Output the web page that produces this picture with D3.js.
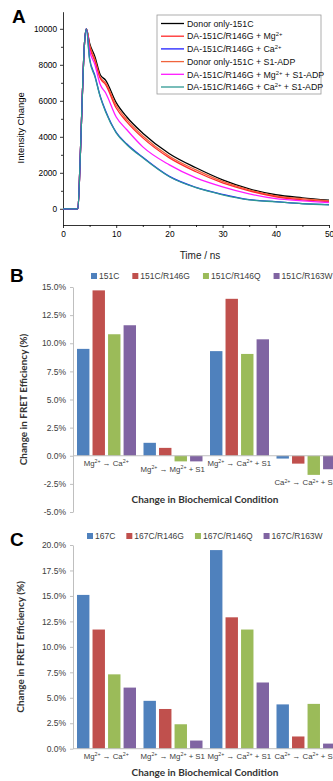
<!DOCTYPE html>
<meta charset="utf-8">
<style>
body { margin: 0; background: #fff; }
svg { display: block; font-family: "Liberation Sans", Arial, sans-serif; }
.panel-letter { font-family: "Liberation Sans", Arial, sans-serif; font-weight: bold; font-size: 19px; fill: #000; }
.axisA path, .axisA line { stroke: #000; stroke-width: 0.8px; }
.axisA text { font-size: 8.3px; fill: #000; font-family: "Liberation Sans", Arial, sans-serif; }
.axisB path, .axisB line { stroke: #bfbfbf; stroke-width: 1px; }
.axisB text { font-size: 8.5px; fill: #404040; font-family: "Liberation Sans", Arial, sans-serif; }
.bold-title { font-family: Lato, "Open Sans", sans-serif; font-weight: bold; font-size: 10px; fill: #333; }
.leg-text { font-size: 8.5px; fill: #404040; }
.cat-label { font-size: 7.8px; fill: #404040; }
</style>
<body>
<svg id="fig" width="333" height="781"></svg>
<script src="https://d3js.org/d3.v7.min.js"></script>
<script>

// ---------- panel A data (time-resolved intensity decay) ----------
var times = [0, 2.8, 3.2, 3.6, 4.0, 4.4, 5, 6, 7, 8, 10, 12, 15, 20, 25, 30, 35, 40, 45, 50];
var donor151C   = [0, 0, 2500, 6000, 9000, 10000, 9200, 8450, 7450, 7150, 5900, 5100, 4200, 3060, 2280, 1610, 1110, 780, 610, 480];
var donorS1     = [0, 0, 2500, 6000, 9000, 10000, 9100, 8300, 7300, 7000, 5750, 4950, 4050, 2920, 2160, 1520, 1050, 720, 560, 440];
var daMg        = [0, 0, 2500, 6000, 9000, 10000, 9000, 8200, 7250, 6900, 5600, 4830, 3940, 2830, 2060, 1440, 1000, 670, 500, 400];
var daMgS1      = [0, 0, 2500, 6000, 9000, 10000, 8800, 8000, 6900, 6450, 5100, 4390, 3440, 2440, 1720, 1220, 830, 560, 440, 350];
var daCa        = [0, 0, 2500, 6000, 9000, 10000, 8350, 7400, 6250, 5450, 4250, 3600, 2860, 1800, 1190, 800, 510, 400, 290, 230];
var daCaS1      = [0, 0, 2500, 6000, 9000, 10000, 8280, 7330, 6220, 5390, 4220, 3560, 2830, 1780, 1170, 780, 500, 390, 280, 220];

var legendA = ["Donor only-151C", "DA-151C/R146G + Mg^{2+}", "DA-151C/R146G + Ca^{2+}",
               "Donor only-151C + S1-ADP", "DA-151C/R146G + Mg^{2+} + S1-ADP", "DA-151C/R146G + Ca^{2+} + S1-ADP"];
var seriesA = [donor151C, daMg, daCa, donorS1, daMgS1, daCaS1];
var colorsA = ["#000000", "#ff2a2a", "#1f1fff", "#f0643c", "#ff1aff", "#2f9a93"];
var drawOrderA = [0, 3, 1, 4, 2, 5];

// ---------- panel B / C data (change in FRET efficiency, %) ----------
var conditions = ["Mg^{2+} \u2192 Ca^{2+}", "Mg^{2+} \u2192 Mg^{2+} + S1", "Mg^{2+} \u2192 Ca^{2+} + S1", "Ca^{2+} \u2192 Ca^{2+} + S1"];
var barColors = ["#4f81bd", "#c0504d", "#9bbb59", "#8064a2"];

var mutantsB = ["151C", "151C/R146G", "151C/R146Q", "151C/R163W"];
var b151C  = [9.5, 1.15, 9.3, -0.25];
var bR146G = [14.7, 0.7, 13.95, -0.7];
var bR146Q = [10.8, -0.5, 9.05, -1.7];
var bR163W = [11.6, -0.5, 10.35, -1.2];

var mutantsC = ["167C", "167C/R146G", "167C/R146Q", "167C/R163W"];
var c167C  = [15.1, 4.7, 19.5, 4.35];
var cR146G = [11.7, 3.9, 12.9, 1.2];
var cR146Q = [7.3, 2.4, 11.7, 4.4];
var cR163W = [6.0, 0.8, 6.5, 0.5];

var svg = d3.select("#fig");

// text with ^{..} superscripts
function richText(sel, str, supSize, rise) {
  var parts = str.split(/(\^\{[^}]*\})/);
  var raised = false;
  parts.forEach(function(p) {
    if (!p) return;
    if (p.charAt(0) === "^") {
      sel.append("tspan").attr("font-size", supSize).attr("dy", -rise).text(p.slice(2, -1));
      raised = true;
    } else {
      sel.append("tspan").attr("dy", raised ? rise : 0).text(p);
      raised = false;
    }
  });
}

// ================= PANEL A =================
var xA = d3.scaleLinear().domain([0, 50]).range([63, 329]);
var yA = d3.scaleLinear().domain([-900, 10950]).range([225, 11.7]);

var gA = svg.append("g");

gA.append("g").attr("class", "axisA")
    .attr("transform", "translate(0," + yA.range()[0] + ")")
    .call(d3.axisBottom(xA).tickValues([0, 10, 20, 30, 40, 50]).tickSize(3).tickSizeOuter(0).tickPadding(3));
gA.append("g").attr("class", "axisA")
    .attr("transform", "translate(0," + yA.range()[0] + ")")
    .call(d3.axisBottom(xA).tickValues([5, 15, 25, 35, 45]).tickSize(2).tickFormat(""))
    .select(".domain").remove();

gA.append("g").attr("class", "axisA")
    .attr("transform", "translate(" + xA.range()[0] + ",0)")
    .call(d3.axisLeft(yA).tickValues([0, 2000, 4000, 6000, 8000, 10000]).tickSize(3)
          .tickSizeOuter(0).tickPadding(3).tickFormat(d3.format("d")));
gA.append("g").attr("class", "axisA")
    .attr("transform", "translate(" + xA.range()[0] + ",0)")
    .call(d3.axisLeft(yA).tickValues([1000, 3000, 5000, 7000, 9000]).tickSize(2).tickFormat(""))
    .select(".domain").remove();

var lineA = d3.line()
    .x(function(d, i) { return xA(times[i]); })
    .y(function(d) { return yA(d); })
    .curve(d3.curveMonotoneX);

drawOrderA.forEach(function(k) {
  gA.append("path")
      .datum(seriesA[k])
      .attr("fill", "none")
      .attr("stroke", colorsA[k])
      .attr("stroke-width", 1.3)
      .attr("d", lineA);
});

gA.append("text")
    .attr("transform", "translate(24," + yA(4500) + ")rotate(-90)")
    .attr("text-anchor", "middle")
    .attr("font-size", 9.5)
    .text("Intensity Change");

gA.append("text")
    .attr("x", 200).attr("y", 259)
    .attr("text-anchor", "middle")
    .attr("font-size", 10)
    .attr("fill", "#222")
    .text("Time / ns");

// legend A
var legA = gA.append("g");
legA.append("rect")
    .attr("x", 157).attr("y", 15).attr("width", 164).attr("height", 79)
    .attr("fill", "#fff").attr("stroke", "#999").attr("stroke-width", 0.8);
legendA.forEach(function(lbl, i) {
  var yy = 23.5 + i * 12.7;
  legA.append("line")
      .attr("x1", 161).attr("x2", 184).attr("y1", yy).attr("y2", yy)
      .attr("stroke", colorsA[i]).attr("stroke-width", 1.3);
  var t = legA.append("text")
      .attr("x", 187).attr("y", yy + 3.2)
      .attr("font-size", 8.8).attr("fill", "#111");
  richText(t, lbl, 5.8, 3);
});

svg.append("text").attr("class", "panel-letter").attr("x", 12).attr("y", 23).text("A");

// ================= PANELS B & C =================
function barPanel(opts) {
  var g = svg.append("g");
  var x0 = d3.scaleBand().domain(d3.range(conditions.length)).range([73, 339]);
  var x1 = d3.scaleBand().domain(d3.range(opts.names.length)).range([4, x0.bandwidth() - 3.5]).paddingInner(0.2);
  var y = d3.scaleLinear().domain(opts.domain).range(opts.range);

  g.append("g").attr("class", "axisB")
      .attr("transform", "translate(" + x0.range()[0] + ",0)")
      .call(d3.axisLeft(y).tickValues(d3.range(opts.domain[0], opts.domain[1] + 0.01, 2.5))
            .tickSize(3).tickSizeOuter(0).tickPadding(4)
            .tickFormat(function(d) { return d.toFixed(1) + "%"; }));

  var rows = opts.values;
  conditions.forEach(function(c, ci) {
    var gg = g.append("g").attr("transform", "translate(" + x0(ci) + ",0)");
    rows.forEach(function(vals, si) {
      var v = vals[ci];
      gg.append("rect")
          .attr("x", x1(si))
          .attr("width", x1.bandwidth())
          .attr("y", y(Math.max(0, v)))
          .attr("height", Math.abs(y(v) - y(0)))
          .attr("fill", barColors[si]);
    });
  });

  // zero line
  g.append("line")
      .attr("x1", x0.range()[0]).attr("x2", 333)
      .attr("y1", y(0)).attr("y2", y(0))
      .attr("stroke", "#bfbfbf").attr("stroke-width", 1);

  // category labels, sitting below the lowest bar of each group
  conditions.forEach(function(c, ci) {
    var low = d3.min(rows, function(r) { return r[ci]; });
    var t = g.append("text")
        .attr("class", "cat-label")
        .attr("x", x0(ci) + x0.bandwidth() / 2)
        .attr("y", y(Math.min(0, low)) + 10.5)
        .attr("text-anchor", "middle");
    richText(t, c, 5.3, 2.8);
  });

  // legend
  var lx = opts.legendX;
  opts.names.forEach(function(n, i) {
    g.append("rect")
        .attr("x", lx).attr("y", opts.legendY - 3)
        .attr("width", 6).attr("height", 6)
        .attr("fill", barColors[i]);
    var t = g.append("text").attr("class", "leg-text")
        .attr("x", lx + 8).attr("y", opts.legendY + 3)
        .text(n);
    lx += 8 + t.node().getComputedTextLength() + opts.legendGap;
  });

  g.append("text").attr("class", "bold-title")
      .attr("transform", "translate(" + opts.ylabelX + "," + (opts.range[0] + opts.range[1]) / 2 + ")rotate(-90)")
      .attr("text-anchor", "middle")
      .text("Change in FRET Efficiency (%)");

  g.append("text").attr("class", "bold-title")
      .attr("x", 205).attr("y", opts.xtitleY)
      .attr("text-anchor", "middle")
      .text("Change in Biochemical Condition");

  svg.append("text").attr("class", "panel-letter")
      .attr("x", 10).attr("y", opts.letterY).text(opts.letter);
}

barPanel({
  letter: "B", letterY: 282,
  names: mutantsB, values: [b151C, bR146G, bR146Q, bR163W],
  domain: [-5, 15], range: [512, 287],
  legendX: 91, legendY: 276, legendGap: 13,
  ylabelX: 27, xtitleY: 503
});

barPanel({
  letter: "C", letterY: 546,
  names: mutantsC, values: [c167C, cR146G, cR146Q, cR163W],
  domain: [0, 20], range: [748.7, 545],
  legendX: 87, legendY: 536, legendGap: 11,
  ylabelX: 24, xtitleY: 776
});

</script>
